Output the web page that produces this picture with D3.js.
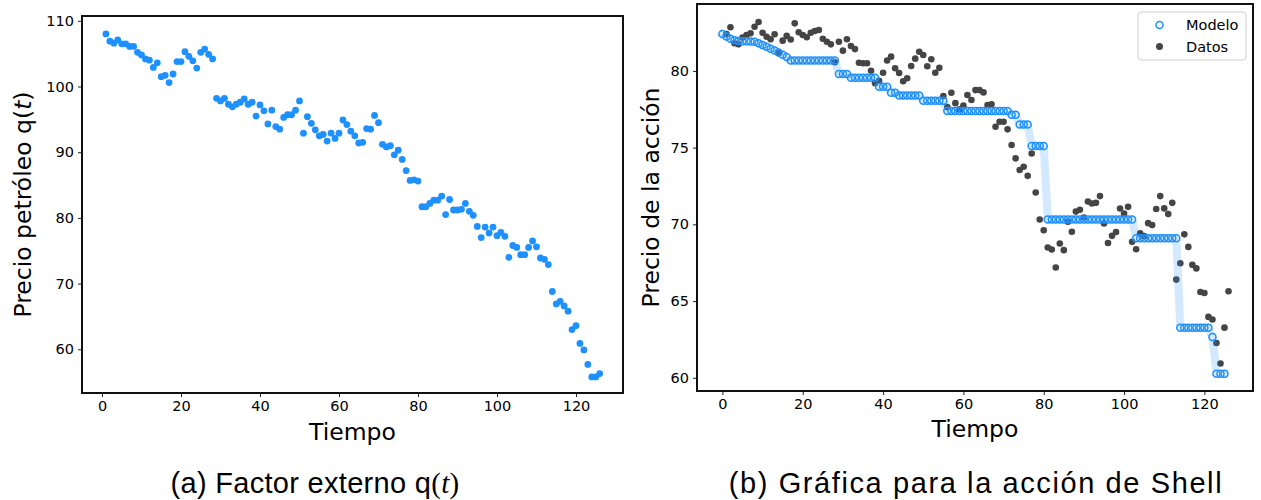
<!DOCTYPE html>
<html>
<head>
<meta charset="utf-8">
<script src="https://cdn.jsdelivr.net/npm/d3@7"></script>
<style>
  html, body { margin: 0; padding: 0; background: #fff; }
  svg { display: block; }
  text { font-family: "DejaVu Sans", sans-serif; fill: #000; }
</style>
</head>
<body>
<svg id="chart" width="1261" height="500"></svg>
<script>
// ---------- DATA ----------
// (a) external factor: oil price, t = 1..126
const petroleoInicio = 1;
const petroleo = [
  108.0,106.9,106.6,107.1,106.5,106.5,106.1,106.1,105.2,104.8,
  104.2,104.0,102.9,103.6,101.5,101.7,100.6,101.9,103.8,103.8,
  105.3,104.6,103.9,102.8,105.2,105.7,104.9,104.2,98.2,97.8,
  98.2,97.3,96.9,97.3,97.6,98.1,97.3,97.6,95.5,97.2,
  96.3,94.3,96.4,93.9,93.5,95.3,95.7,95.7,96.4,97.8,
  92.9,95.4,94.4,93.4,92.5,92.7,91.7,92.9,92.1,92.9,
  94.9,94.2,93.2,92.5,91.4,91.5,93.6,93.5,95.6,94.5,
  91.2,90.8,91.0,89.6,90.3,88.9,87.2,85.7,85.8,85.6,
  81.7,81.7,82.2,82.7,82.7,83.3,80.5,82.8,81.2,81.2,
  81.3,82.2,81.0,80.4,78.7,77.0,78.6,77.7,78.6,77.3,
  77.8,77.2,74.0,75.8,75.5,74.4,74.4,75.5,76.5,75.6,
  73.9,73.7,72.9,68.8,66.9,67.3,66.6,65.8,63.0,63.6,
  60.9,59.9,57.7,55.8,55.8,56.3
];

// (b) Shell stock: observed data, t = 1..126
const datosInicio = 1;
const datos = [
  82.40,82.84,81.80,81.73,82.17,82.34,82.45,82.88,83.19,82.49,
  82.23,82.06,82.39,81.15,81.97,82.28,82.05,83.10,82.52,82.34,
  82.19,82.49,82.60,82.67,82.10,81.90,81.73,80.56,81.90,81.32,
  82.06,81.62,81.42,80.53,80.50,80.50,80.01,79.20,79.36,79.88,
  80.68,80.93,80.17,79.86,79.33,79.52,80.32,80.80,81.25,81.04,
  80.30,80.76,79.88,80.20,78.36,77.64,78.58,77.90,77.49,77.75,
  78.43,78.10,78.75,78.75,78.60,77.78,77.82,76.36,76.69,76.69,
  76.19,75.17,74.30,73.54,73.75,73.16,74.62,72.08,70.32,69.62,
  68.49,68.36,67.19,68.75,68.32,70.17,69.52,70.83,70.95,70.45,
  71.49,71.36,71.40,71.84,70.06,68.78,69.25,69.50,71.03,70.71,
  71.14,68.87,68.38,69.41,69.23,70.08,69.95,71.00,71.84,71.04,
  70.67,71.40,66.40,67.47,69.35,68.53,67.36,67.13,65.59,65.53,
  63.97,63.80,62.27,60.93,63.27,65.64
];

// (b) Shell stock: model, t = 0..125
const modeloInicio = 0;
const modelo = [
  82.41,82.25,82.10,82.00,81.95,81.94,81.93,81.92,81.90,81.80,
  81.68,81.57,81.45,81.33,81.20,81.05,80.90,80.68,80.68,80.68,
  80.68,80.68,80.68,80.68,80.68,80.68,80.68,80.68,80.68,79.80,
  79.80,79.80,79.55,79.55,79.55,79.55,79.55,79.55,79.55,78.97,
  78.97,78.97,78.58,78.58,78.40,78.40,78.40,78.40,78.40,78.40,
  78.05,78.05,78.05,78.05,78.05,78.05,77.38,77.38,77.38,77.38,
  77.38,77.38,77.38,77.38,77.38,77.38,77.38,77.38,77.38,77.38,
  77.38,77.38,77.15,77.15,76.50,76.50,76.50,75.10,75.10,75.10,
  75.10,70.32,70.32,70.32,70.32,70.32,70.32,70.32,70.32,70.32,
  70.32,70.32,70.32,70.32,70.32,70.32,70.32,70.32,70.32,70.32,
  70.32,70.32,70.32,69.10,69.10,69.10,69.10,69.10,69.10,69.10,
  69.10,69.10,69.10,69.10,63.27,63.27,63.27,63.27,63.27,63.27,
  63.27,63.27,62.66,60.27,60.27,60.27
];

const ticksXA = [0, 20, 40, 60, 80, 100, 120];
const ticksYA = [60, 70, 80, 90, 100, 110];
const ticksXB = [0, 20, 40, 60, 80, 100, 120];
const ticksYB = [60, 65, 70, 75, 80];
const legendLabels = ["Modelo", "Datos"];

// ---------- DRAW ----------
const svg = d3.select("#chart");
const blue = "#1e90ff";
const dark = "#454545";

const toPts = (arr, start) => arr.map((v, i) => ({ t: start + i, v }));
const ptsA = toPts(petroleo, petroleoInicio);
const ptsD = toPts(datos, datosInicio);
const ptsM = toPts(modelo, modeloInicio);

function drawAxes(g, x, y, xt, yt, box) {
  const xAxis = d3.axisBottom(x).tickValues(xt).tickSize(4).tickPadding(4).tickFormat(d3.format("d"));
  const yAxis = d3.axisLeft(y).tickValues(yt).tickSize(4).tickPadding(4).tickFormat(d3.format("d"));
  const gx = g.append("g").attr("transform", `translate(0,${box.b})`).call(xAxis);
  const gy = g.append("g").attr("transform", `translate(${box.l},0)`).call(yAxis);
  [gx, gy].forEach(a => {
    a.select(".domain").remove();
    a.selectAll(".tick line").attr("stroke", "#222").attr("stroke-width", 1);
    a.selectAll(".tick text").style("font-family", "'DejaVu Sans', sans-serif").style("font-size", "14.5px").attr("fill", "#000");
  });
  g.append("rect").attr("x", box.l).attr("y", box.t)
    .attr("width", box.r - box.l).attr("height", box.b - box.t)
    .attr("fill", "none").attr("stroke", "#111").attr("stroke-width", 2);
}

// ----- Panel (a) -----
const boxA = { l: 82, r: 623, t: 16, b: 393 };
const xA = d3.scaleLinear().domain([-5.06, 131.9]).range([boxA.l, boxA.r]);
const yA = d3.scaleLinear().domain([53.35, 110.73]).range([boxA.b, boxA.t]);
const gA = svg.append("g");
gA.append("g").selectAll("circle").data(ptsA).join("circle")
  .attr("cx", d => xA(d.t)).attr("cy", d => yA(d.v)).attr("r", 3.4).attr("fill", blue);
drawAxes(gA, xA, yA, ticksXA, ticksYA, boxA);

gA.append("text").attr("x", (boxA.l + boxA.r) / 2).attr("y", 440)
  .attr("text-anchor", "middle").style("font-size", "23.5px").text("Tiempo");
const ylA = gA.append("text").attr("transform", `translate(31,${(boxA.t + boxA.b) / 2}) rotate(-90)`)
  .attr("text-anchor", "middle").style("font-size", "23.5px");
ylA.append("tspan").text("Precio petróleo q(");
ylA.append("tspan").style("font-style", "italic").text("t");
ylA.append("tspan").text(")");

// ----- Panel (b) -----
const boxB = { l: 697, r: 1253, t: 4, b: 391 };
const xB = d3.scaleLinear().domain([-6.33, 132.1]).range([boxB.l, boxB.r]);
const yB = d3.scaleLinear().domain([59.14, 84.36]).range([boxB.b, boxB.t]);
const gB = svg.append("g");
// data points
gB.append("g").selectAll("circle").data(ptsD).join("circle")
  .attr("cx", d => xB(d.t)).attr("cy", d => yB(d.v)).attr("r", 3.3).attr("fill", dark);
// translucent band following the model
gB.append("path").datum(ptsM)
  .attr("d", d3.line().x(d => xB(d.t)).y(d => yB(d.v)))
  .attr("fill", "none").attr("stroke", blue).attr("stroke-opacity", 0.2)
  .attr("stroke-width", 8).attr("stroke-linejoin", "round").attr("stroke-linecap", "square");
// model markers
gB.append("g").selectAll("circle").data(ptsM).join("circle")
  .attr("cx", d => xB(d.t)).attr("cy", d => yB(d.v)).attr("r", 3.5)
  .attr("fill", "none").attr("stroke", blue).attr("stroke-width", 1.5);
drawAxes(gB, xB, yB, ticksXB, ticksYB, boxB);

gB.append("text").attr("x", (boxB.l + boxB.r) / 2).attr("y", 437)
  .attr("text-anchor", "middle").style("font-size", "23.5px").text("Tiempo");
gB.append("text").attr("transform", `translate(659,${(boxB.t + boxB.b) / 2}) rotate(-90)`)
  .attr("text-anchor", "middle").style("font-size", "23.5px").text("Precio de la acción");

// legend
const lg = gB.append("g");
lg.append("rect").attr("x", 1138).attr("y", 12).attr("width", 108).attr("height", 48)
  .attr("rx", 3).attr("fill", "#fff").attr("fill-opacity", 0.8)
  .attr("stroke", "#d0d0d0").attr("stroke-width", 1);
const legRows = lg.selectAll("g.row").data(legendLabels).join("g").attr("class", "row")
  .attr("transform", (d, i) => `translate(0,${25 + i * 21.5})`);
legRows.append("circle").attr("cx", 1159.5).attr("cy", 0).attr("r", 3.5)
  .attr("fill", (d, i) => i === 0 ? "none" : dark)
  .attr("stroke", (d, i) => i === 0 ? blue : "none").attr("stroke-width", 1.5);
legRows.append("text").attr("x", 1186).attr("y", 5.2).style("font-size", "14.5px").text(d => d);

// captions
const capA = svg.append("text").attr("x", 315).attr("y", 493).attr("text-anchor", "middle")
  .style("font-family", "'Liberation Sans', Arial, sans-serif").style("font-size", "29px")
  .style("letter-spacing", "0.3px");
capA.append("tspan").text("(a) Factor externo q");
capA.append("tspan").style("font-family", "'Liberation Serif', serif").text("(");
capA.append("tspan").style("font-family", "'Liberation Serif', serif").style("font-style", "italic").text("t");
capA.append("tspan").style("font-family", "'Liberation Serif', serif").text(")");
svg.append("text").attr("x", 976).attr("y", 493).attr("text-anchor", "middle")
  .style("font-family", "'Liberation Sans', Arial, sans-serif").style("font-size", "29px")
  .style("letter-spacing", "1.6px")
  .text("(b) Gráfica para la acción de Shell");
</script>
</body>
</html>
